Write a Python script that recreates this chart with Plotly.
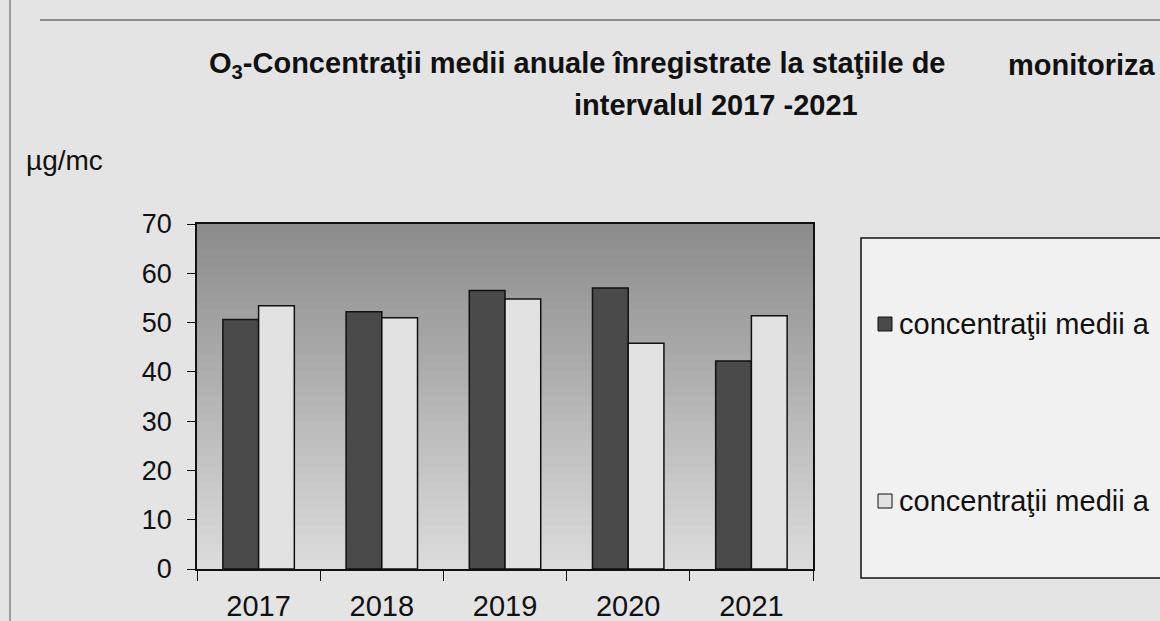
import plotly.graph_objects as go

years = ["2017", "2018", "2019", "2020", "2021"]
serie1 = [50.6, 52.2, 56.5, 57.0, 42.2]
serie2 = [53.4, 51.0, 54.8, 45.8, 51.4]
nume1 = "concentraţii medii a"
nume2 = "concentraţii medii a"
yticks = [0, 10, 20, 30, 40, 50, 60, 70]

W, H = 1160, 621
L, R, T, B = 197, 813, 224, 569
font = "Liberation Sans, Arial, sans-serif"


def px(x):
    return (x - L) / (R - L)


def py(y):
    return (B - y) / (B - T)


fig = go.Figure()
fig.add_trace(go.Bar(x=years, y=serie1, name=nume1, marker_color="#4a4a4a",
                     marker_line_color="#111111", marker_line_width=1.5, showlegend=False))
fig.add_trace(go.Bar(x=years, y=serie2, name=nume2, marker_color="#e2e2e2",
                     marker_line_color="#111111", marker_line_width=1.5, showlegend=False))

shapes = []
# gradient background of the plot area
n = 40
for i in range(n):
    t = i / (n - 1)
    g = int(0xdc - (0xdc - 0x8c) * t)
    shapes.append(dict(type="rect", xref="x domain", yref="y domain", x0=0, x1=1,
                       y0=i / n, y1=(i + 1) / n + 0.002, line_width=0, layer="below",
                       fillcolor=f"rgb({g},{g},{g})"))
# scan frame lines
shapes.append(dict(type="line", xref="paper", yref="paper", x0=px(40), x1=px(1160),
                   y0=py(20), y1=py(20), line=dict(color="#333", width=1)))
shapes.append(dict(type="line", xref="paper", yref="paper", x0=px(10), x1=px(10),
                   y0=py(0), y1=py(621), line=dict(color="#555", width=1)))
# legend box
shapes.append(dict(type="rect", xref="paper", yref="paper", x0=px(861), x1=px(1175),
                   y0=py(578), y1=py(238), line=dict(color="#111", width=1.5),
                   fillcolor="#f1f1f1"))
shapes.append(dict(type="rect", xref="paper", yref="paper", x0=px(878), x1=px(892),
                   y0=py(331), y1=py(317), line=dict(color="#111", width=1),
                   fillcolor="#4a4a4a"))
shapes.append(dict(type="rect", xref="paper", yref="paper", x0=px(878), x1=px(892),
                   y0=py(508), y1=py(494), line=dict(color="#111", width=1),
                   fillcolor="#e2e2e2"))

ann = [
    dict(text="<b>O<sub>3</sub>-Concentraţii medii anuale înregistrate la staţiile de</b>",
         x=px(207), y=py(65), xanchor="left", yanchor="middle", font=dict(size=29)),
    dict(text="<b>monitoriza</b>", x=px(1157), y=py(65), xanchor="right", yanchor="middle",
         font=dict(size=29)),
    dict(text="<b>intervalul 2017 -2021</b>", x=px(716), y=py(105), xanchor="center",
         yanchor="middle", font=dict(size=29)),
    dict(text="µg/mc", x=px(24), y=py(160), xanchor="left", yanchor="middle",
         font=dict(size=28)),
    dict(text=nume1, x=px(897), y=py(324), xanchor="left", yanchor="middle",
         font=dict(size=29)),
    dict(text=nume2, x=px(897), y=py(501), xanchor="left", yanchor="middle",
         font=dict(size=29)),
]
for a in ann:
    a.update(xref="paper", yref="paper", showarrow=False)
    a["font"].update(family=font, color="#111")

fig.update_layout(
    width=W, height=H,
    margin=dict(l=L, r=W - R, t=T, b=H - B),
    paper_bgcolor="#e4e4e4", plot_bgcolor="#b4b4b4",
    barmode="group", bargap=0.42, bargroupgap=0,
    font=dict(family=font, color="#111", size=27),
    shapes=shapes, annotations=ann,
)
fig.update_xaxes(showline=True, linecolor="#111", linewidth=1.5, mirror=True,
                 ticks="outside", ticklen=10, tickcolor="#111", tickson="boundaries",
                 ticklabelstandoff=10, tickfont=dict(size=29), showgrid=False,
                 automargin=False)
fig.update_yaxes(range=[0, 70], tickvals=yticks, showline=True, linecolor="#111",
                 linewidth=1.5, mirror=True, ticks="outside", ticklen=8, tickcolor="#111",
                 ticklabelstandoff=10, tickfont=dict(size=27), showgrid=False,
                 zeroline=False, automargin=False)

fig.write_html("out.html", config={"displayModeBar": False},
               post_script="document.body.style.margin='0';")
